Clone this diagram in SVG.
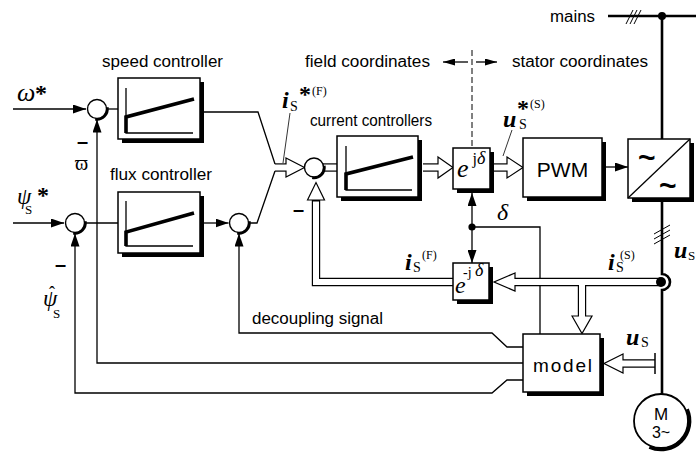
<svg xmlns="http://www.w3.org/2000/svg" width="696" height="453" viewBox="0 0 696 453">
<defs>
<style>
.ln{stroke:#000;stroke-width:1.3;fill:none}
.thin{stroke:#000;stroke-width:0.8;fill:none}
.thick{stroke:#000;stroke-width:2.6;fill:none}
.gr{stroke:#000;stroke-width:1.3;fill:none}
.grk{stroke:#000;stroke-width:3.6;fill:none}
.db{stroke:#000;stroke-width:8.4;fill:none;stroke-linejoin:miter}
.dw{stroke:#fff;stroke-width:6;fill:none;stroke-linejoin:miter}
.hol{fill:#fff;stroke:#000;stroke-width:1.2;stroke-linejoin:miter}
.box{fill:#fff;stroke:#000;stroke-width:1.5}
.sh{fill:#000}
.sum{fill:#fff;stroke:#000;stroke-width:1.4}
.sumsh{fill:none;stroke:#000;stroke-width:2.6}
.lbl{font-family:"Liberation Sans Narrow","Liberation Sans",Arial,sans-serif;font-size:16px;fill:#000}
.blk{font-family:"Liberation Sans",Arial,sans-serif;fill:#000}
.m{font-family:"Liberation Serif","Times New Roman",serif;fill:#000}
.st{font-family:"Liberation Serif","Times New Roman",serif;font-weight:bold;fill:#000}
.mi{font-family:"Liberation Serif","Times New Roman",serif;font-style:italic;fill:#000}
.mb{font-family:"Liberation Serif","Times New Roman",serif;font-style:italic;font-weight:bold;fill:#000}
</style>
<marker id="ah" viewBox="0 0 13 9" refX="13" refY="4.5" markerWidth="13" markerHeight="9" markerUnits="userSpaceOnUse" orient="auto"><path d="M0,0 L13,4.5 L0,9 z" fill="#000"/></marker>
<marker id="as" viewBox="0 0 12 7" refX="12" refY="3.5" markerWidth="12" markerHeight="7" markerUnits="userSpaceOnUse" orient="auto"><path d="M0,0 L12,3.5 L0,7 z" fill="#000"/></marker>
</defs>
<rect width="696" height="453" fill="#fff"/>

<g id="connectors">
<path class="ln" d="M13,109 H86" marker-end="url(#ah)"/>
<path class="ln" d="M13,223 H64" marker-end="url(#ah)"/>
<path class="ln" d="M106.5,109 H118"/>
<path class="ln" d="M84.5,223 H118"/>
<path class="ln" d="M204,112 H258 L275,164"/>
<path class="ln" d="M204,223 H228.5" marker-end="url(#ah)"/>
<path class="ln" d="M248.5,223 H257 L275,171"/>
<path class="ln" d="M523,347 H507 L492,333 H239 V233.5" marker-end="url(#ah)"/>
<path class="ln" d="M523,363 H97 V119.5" marker-end="url(#ah)"/>
<path class="ln" d="M523,380 H507 L492,393 H75 V233.5" marker-end="url(#ah)"/>
<path class="ln" d="M472,227 H540 V334"/>
<path class="ln" d="M472,227 V193" marker-end="url(#ah)"/>
<path class="ln" d="M472,227 V263" marker-end="url(#ah)"/>
<circle cx="472" cy="227" r="3.6" fill="#000"/>
<path d="M472,50 V148" stroke="#000" stroke-width="1" stroke-dasharray="6,3" fill="none"/>
<path class="ln" d="M468,62 H443" marker-end="url(#as)"/>
<path class="ln" d="M476,62 H497" marker-end="url(#as)"/>
<path class="ln" d="M606,167 H628" marker-end="url(#ah)"/>
<path class="thick" d="M608,16 H696"/>
<path class="thick" d="M662,16 V139"/>
<circle cx="662" cy="16" r="4" fill="#000"/>
<path stroke="#000" stroke-width="1" d="M626,24 L633,10 M630,24 L637,10 M634,24 L641,10"/>
<path class="thick" d="M662,202 V274 A8,8 0 0 1 662,290 V394"/>
<path stroke="#000" stroke-width="1" d="M654,234 L670,225 M654,239 L670,230 M654,244 L670,235"/>

<path class="db" d="M275,167.5 H287"/>
<path class="db" d="M323,167.5 H337"/>
<path class="db" d="M423,167.5 H439"/>
<path class="db" d="M494,167.5 H508"/>
<path class="db" d="M453,282 H316 V200"/>
<path class="db" d="M661,282 H514"/>
<path class="db" d="M582,282 V317"/>
<path class="db" d="M655,363.5 H622"/>
<polygon class="hol" points="286,158 304.5,167.5 286,177"/>
<polygon class="hol" points="438,157 453,167.5 438,178"/>
<polygon class="hol" points="507,157 523,167.5 507,178"/>
<polygon class="hol" points="307.5,200 316,182.5 324.5,200"/>
<polygon class="hol" points="515,273 494,282 515,291"/>
<polygon class="hol" points="572,316 582,333.5 592,316"/>
<polygon class="hol" points="623,354 604,363.5 623,373"/>
<path class="dw" d="M275,167.5 H288.5"/>
<path class="dw" d="M323,167.5 H337"/>
<path class="dw" d="M423,167.5 H440.5"/>
<path class="dw" d="M494,167.5 H509.5"/>
<path class="dw" d="M453,282 H316 V201.5"/>
<path class="dw" d="M661,282 H512.5"/>
<path class="dw" d="M582,282 V318.5"/>
<path class="dw" d="M655,363.5 H620.5"/>
<path stroke="#000" stroke-width="1.5" d="M655,353 V374"/>
<circle cx="661" cy="282" r="5" fill="#000"/>
<path class="thin" d="M290,113 L283,163"/>
<path class="thin" d="M512,130 L503,156"/>
</g>

<g id="sum-speed">
<circle class="sum" cx="97" cy="109" r="9.5"/>
<path class="sumsh" d="M107.3,107.2 A10.5,10.5 0 0 1 95.2,119.3"/>
</g>
<g id="sum-flux">
<circle class="sum" cx="75" cy="223" r="9.5"/>
<path class="sumsh" d="M85.3,221.2 A10.5,10.5 0 0 1 73.2,233.3"/>
</g>
<g id="sum-decoupling">
<circle class="sum" cx="239" cy="223" r="9.5"/>
<path class="sumsh" d="M249.3,221.2 A10.5,10.5 0 0 1 237.2,233.3"/>
</g>
<g id="sum-current">
<circle class="sum" cx="314" cy="167.5" r="9.5"/>
<path class="sumsh" d="M324.3,165.7 A10.5,10.5 0 0 1 312.2,177.8"/>
</g>

<g id="speed-controller">
<rect class="sh" x="122" y="82" width="82" height="61"/>
<rect class="box" x="118" y="78" width="82" height="61"/>
<path class="gr" d="M126,88 V133 H193"/>
<path class="grk" d="M126,133 V117 L194,99"/>
<text class="lbl" x="102" y="67" textLength="121" lengthAdjust="spacingAndGlyphs">speed controller</text>
</g>
<g id="flux-controller">
<rect class="sh" x="122" y="196" width="82" height="61"/>
<rect class="box" x="118" y="192" width="82" height="61"/>
<path class="gr" d="M126,201 V246 H193"/>
<path class="grk" d="M126,246 V232 L194,213"/>
<text class="lbl" x="110" y="180" textLength="102" lengthAdjust="spacingAndGlyphs">flux controller</text>
</g>
<g id="current-controllers">
<rect class="sh" x="341" y="140" width="81" height="61"/>
<rect class="box" x="337" y="136" width="81" height="61"/>
<path class="gr" d="M346,146 V190 H412"/>
<path class="grk" d="M346,190 V174 L413,157"/>
<text class="lbl" x="310" y="126" textLength="122" lengthAdjust="spacingAndGlyphs">current controllers</text>
</g>
<g id="rot-forward">
<rect class="sh" x="457" y="152" width="37" height="41"/>
<rect class="box" x="453" y="148" width="37" height="41"/>
<text><tspan class="mi" x="457" y="177" font-size="26">e</tspan><tspan class="m" x="472.5" y="164" font-size="16">j</tspan><tspan class="mi" x="477" y="164" font-size="18">δ</tspan></text>
</g>
<g id="rot-backward">
<rect class="sh" x="457" y="267" width="36" height="37"/>
<rect class="box" x="453" y="263" width="36" height="37"/>
<text><tspan class="mi" x="455" y="293" font-size="24">e</tspan><tspan class="m" x="463" y="277" font-size="14">-j</tspan><tspan class="mi" x="475" y="276" font-size="18">δ</tspan></text>
</g>
<g id="pwm">
<rect class="sh" x="527" y="142" width="79" height="59"/>
<rect class="box" x="523" y="138" width="79" height="59"/>
<text class="blk" x="562.5" y="177" font-size="21" text-anchor="middle">PWM</text>
</g>
<g id="converter">
<rect class="sh" x="632" y="143" width="62" height="59"/>
<rect class="box" x="628" y="139" width="62" height="59"/>
<path class="ln" d="M628,198 L690,139"/>
<text class="blk" x="638" y="168" font-size="30" font-weight="bold">~</text>
<text class="blk" x="659" y="196" font-size="30" font-weight="bold">~</text>
</g>
<g id="model">
<rect class="sh" x="527" y="338" width="77" height="58"/>
<rect class="box" x="523" y="334" width="77" height="58"/>
<text class="blk" x="533" y="372" font-size="19" textLength="59" lengthAdjust="spacing">model</text>
</g>
<g id="motor">
<circle cx="661" cy="421" r="27" fill="#fff" stroke="#000" stroke-width="1.8"/>
<path fill="none" stroke="#000" stroke-width="3.6" d="M687.1,409.3 A28.6,28.6 0 0 1 649.4,447.1"/>
<text class="blk" x="661" y="420" font-size="17" text-anchor="middle">M</text>
<text class="blk" x="661" y="438" font-size="16" text-anchor="middle">3~</text>
</g>

<g id="labels">
<text class="lbl" x="305" y="67" textLength="125" lengthAdjust="spacingAndGlyphs">field coordinates</text>
<text class="lbl" x="512" y="67" textLength="136" lengthAdjust="spacingAndGlyphs">stator coordinates</text>
<text class="lbl" x="550" y="22" textLength="45" lengthAdjust="spacingAndGlyphs">mains</text>
<text class="lbl" x="252" y="324" textLength="131" lengthAdjust="spacingAndGlyphs">decoupling signal</text>
<text><tspan class="mi" x="17" y="101" font-size="26">ω</tspan><tspan class="st" x="35" y="101" font-size="24">*</tspan></text>
<text><tspan class="mi" x="17" y="204" font-size="23">ψ</tspan><tspan class="m" x="25" y="214" font-size="13">S</tspan><tspan class="st" x="37" y="203" font-size="24">*</tspan></text>
<text><tspan class="mi" x="43" y="306" font-size="23">ψ</tspan><tspan class="m" x="49" y="299" font-size="18">ˆ</tspan><tspan class="m" x="53" y="318" font-size="13">S</tspan></text>
<text class="m" x="75" y="170" font-size="20">ϖ</text>
<text class="blk" x="77" y="148" font-size="20" font-weight="bold">–</text>
<text class="blk" x="55" y="271" font-size="20" font-weight="bold">–</text>
<text class="blk" x="293" y="216" font-size="20" font-weight="bold">–</text>
<text><tspan class="mb" x="282" y="108" font-size="24">i</tspan><tspan class="m" x="290" y="111" font-size="14">S</tspan><tspan class="st" x="299" y="102" font-size="24">*</tspan><tspan class="m" x="312" y="95" font-size="12">(F)</tspan></text>
<text><tspan class="mb" x="503" y="127" font-size="24">u</tspan><tspan class="m" x="519" y="129" font-size="14">S</tspan><tspan class="st" x="517" y="116" font-size="24">*</tspan><tspan class="m" x="530" y="108" font-size="12">(S)</tspan></text>
<text><tspan class="mb" x="405" y="270" font-size="24">i</tspan><tspan class="m" x="413" y="272" font-size="14">S</tspan><tspan class="m" x="422" y="259" font-size="12">(F)</tspan></text>
<text><tspan class="mb" x="608" y="270" font-size="24">i</tspan><tspan class="m" x="616" y="272" font-size="14">S</tspan><tspan class="m" x="620" y="259" font-size="12">(S)</tspan></text>
<text><tspan class="mb" x="674" y="258" font-size="24">u</tspan><tspan class="m" x="688" y="260" font-size="13">S</tspan></text>
<text><tspan class="mb" x="626" y="345" font-size="24">u</tspan><tspan class="m" x="641" y="347" font-size="14">S</tspan></text>
<text class="mi" x="497" y="220" font-size="24">δ</text>
</g>
</svg>
